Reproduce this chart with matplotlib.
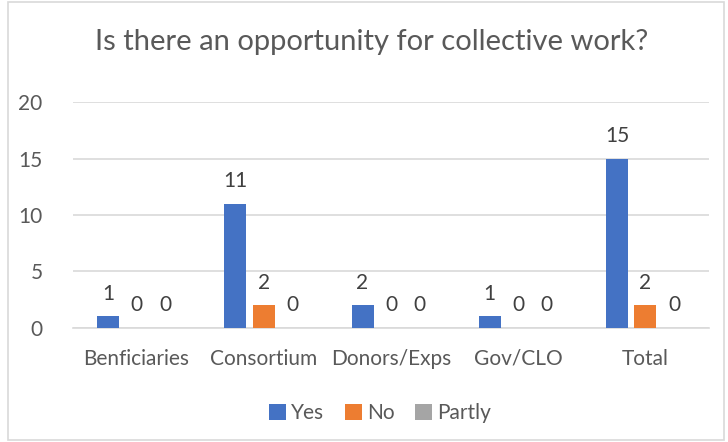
import numpy as np
import matplotlib
matplotlib.use("Agg")
import matplotlib.pyplot as plt
from matplotlib.patches import Rectangle

# survey answers per group
groups = ["Benficiaries", "Consortium", "Donors/Exps", "Gov/CLO", "Total"]
yes = [1, 11, 2, 1, 15]
no = [0, 2, 0, 0, 2]
partly = [0, 0, 0, 0, 0]

series = [("Yes", yes, "#4472C4"), ("No", no, "#ED7D31"), ("Partly", partly, "#A5A5A5")]

plt.rcParams["font.family"] = ["Lato", "DejaVu Sans"]
text_col = "#595959"

fig = plt.figure(figsize=(7.28, 4.42), dpi=100)
ax = fig.add_axes([0.1003, 0.2586, 0.8737, 0.5104])

x = np.arange(len(groups))
width = 0.173
step = 0.224
for i, (name, vals, col) in enumerate(series):
    bars = ax.bar(x + (i - 1) * step, vals, width, color=col, label=name, zorder=3)
    ax.bar_label(bars, labels=[str(v) for v in vals], padding=9,
                 fontsize=15, color="#404040")

ax.set_xlim(-0.5, len(groups) - 0.5)
ax.set_ylim(0, 20)
ax.set_yticks([0, 5, 10, 15, 20])
ax.set_xticks(x)
ax.set_xticklabels(groups)
ax.tick_params(axis="both", length=0, labelsize=15, labelcolor=text_col)
ax.tick_params(axis="x", pad=15)
ax.tick_params(axis="y", pad=22)
ax.grid(axis="y", color="#D9D9D9", linewidth=1.2, zorder=0)
for s in ["top", "right", "left"]:
    ax.spines[s].set_visible(False)
ax.spines["bottom"].set_color("#D9D9D9")
ax.spines["bottom"].set_linewidth(1.2)

fig.text(0.511, 0.905, "Is there an opportunity for collective work?",
         ha="center", va="center", fontsize=21, color=text_col)

fig.legend(loc="center", bbox_to_anchor=(0.522, 0.066), ncol=3, frameon=False,
           fontsize=15, labelcolor=text_col, handlelength=0.8, handleheight=0.8,
           handletextpad=0.25, columnspacing=1.0)

# outer chart border
fig.patches.append(Rectangle((0.011, 0.005), 0.983, 0.99, transform=fig.transFigure,
                             fill=False, edgecolor="#D9D9D9", linewidth=1.2))

fig.savefig("out.png", dpi=100)
